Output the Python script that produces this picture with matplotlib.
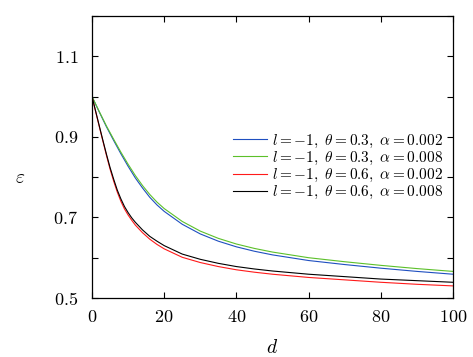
import matplotlib
matplotlib.use("Agg")
import matplotlib.pyplot as plt
from matplotlib.ticker import MultipleLocator

plt.rcParams['font.family'] = 'serif'
plt.rcParams['font.serif'] = ['cmr10']
plt.rcParams['mathtext.fontset'] = 'cm'
plt.rcParams['axes.formatter.use_mathtext'] = True
plt.rcParams['axes.unicode_minus'] = False

# theta = 0.3 curves
d_a = [0, 2, 4, 6, 8, 10, 12, 14, 16, 18, 20, 25, 30, 35, 40, 45, 50, 60, 70, 80, 90, 100]
eps_t03_a002 = [1.000, 0.962, 0.925, 0.891, 0.858, 0.827, 0.798, 0.773, 0.750, 0.731, 0.715,
                0.683, 0.659, 0.641, 0.627, 0.616, 0.607, 0.593, 0.583, 0.574, 0.566, 0.559]
eps_t03_a008 = [1.000, 0.963, 0.927, 0.894, 0.862, 0.832, 0.804, 0.779, 0.757, 0.738, 0.722,
                0.690, 0.666, 0.648, 0.634, 0.623, 0.614, 0.600, 0.590, 0.581, 0.573, 0.566]
# theta = 0.6 curves
d_b = [0, 1, 2, 3, 4, 5, 6, 7, 8, 9, 10, 11, 12, 14, 16, 18, 20, 25, 30, 35, 40, 45, 50,
       60, 70, 80, 90, 100]
eps_t06_a002 = [1.000, 0.963, 0.926, 0.890, 0.854, 0.820, 0.790, 0.763, 0.740, 0.721, 0.706,
                0.693, 0.681, 0.662, 0.646, 0.633, 0.622, 0.601, 0.588, 0.578, 0.570, 0.564,
                0.559, 0.551, 0.545, 0.539, 0.534, 0.530]
eps_t06_a008 = [1.000, 0.964, 0.928, 0.892, 0.857, 0.824, 0.795, 0.768, 0.746, 0.727, 0.712,
                0.699, 0.688, 0.669, 0.653, 0.641, 0.630, 0.609, 0.596, 0.586, 0.578, 0.572,
                0.567, 0.559, 0.553, 0.547, 0.543, 0.539]

series = [
    (d_a, eps_t03_a002, '#1f4fc0', r'$l=-1,\ \theta=0.3,\ \alpha=0.002$'),
    (d_a, eps_t03_a008, '#5cc02a', r'$l=-1,\ \theta=0.3,\ \alpha=0.008$'),
    (d_b, eps_t06_a002, '#ff1a1a', r'$l=-1,\ \theta=0.6,\ \alpha=0.002$'),
    (d_b, eps_t06_a008, '#000000', r'$l=-1,\ \theta=0.6,\ \alpha=0.008$'),
]

fig = plt.figure(figsize=(4.73, 3.57), dpi=100)
ax = fig.add_axes([0.1945, 0.1653, 0.7632, 0.7899])

for xs, vals, c, lab in series:
    ax.plot(xs, vals, color=c, lw=0.8, label=lab)

ax.set_xlim(0, 100)
ax.set_ylim(0.5, 1.2)
ax.xaxis.set_major_locator(MultipleLocator(20))
ax.set_yticks([0.5, 0.7, 0.9, 1.1])
ax.yaxis.set_minor_locator(MultipleLocator(0.1))
ax.tick_params(which='both', direction='in', top=True, right=True, labelsize=13, width=0.8)
ax.tick_params(which='major', length=4)
ax.tick_params(axis='x', which='major', pad=8)
ax.tick_params(axis='y', which='major', pad=10)
ax.tick_params(which='minor', length=4)
for s in ax.spines.values():
    s.set_linewidth(0.9)

ax.set_xlabel(r'$d$', fontsize=14, va='center')
ax.xaxis.set_label_coords(0.5, -0.177)
ax.set_ylabel(r'$\varepsilon$', fontsize=14, rotation=0, va='center', ha='center')
ax.yaxis.set_label_coords(-0.199, 0.426)

leg = ax.legend(loc='center right', bbox_to_anchor=(0.99, 0.465), frameon=False,
                fontsize=11, handlelength=2.2, handletextpad=0.35, labelspacing=0.0,
                borderaxespad=0)

fig.savefig('out.png', dpi=100)
